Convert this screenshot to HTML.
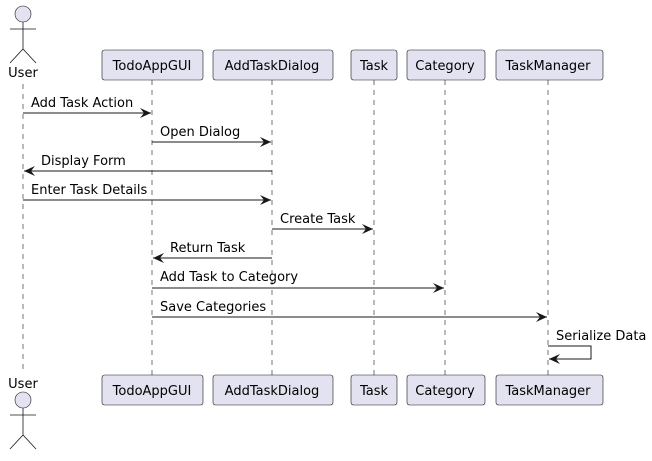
<!DOCTYPE html><html><head><style>body{margin:0;background:#fff}</style></head><body>
<svg width="652" height="456" xmlns="http://www.w3.org/2000/svg" font-family="'DejaVu Sans','Liberation Sans',sans-serif" font-size="13">
<defs><marker id="a" markerWidth="12" markerHeight="10" refX="11" refY="5" orient="auto" markerUnits="userSpaceOnUse"><path d="M0,0 L11,5 L0,10 L4,5 Z" fill="#181818"/></marker></defs>
<g stroke="#181818" stroke-width="0.6" stroke-dasharray="5,5">
<line x1="23" y1="84" x2="23" y2="370"/><line x1="152" y1="80" x2="152" y2="375"/><line x1="272" y1="80" x2="272" y2="375"/><line x1="374" y1="80" x2="374" y2="375"/><line x1="445" y1="80" x2="445" y2="375"/><line x1="548" y1="80" x2="548" y2="375"/></g>
<g fill="#E2E2F0" stroke="#181818" stroke-width="0.6">
<rect x="102" y="50" width="101" height="30" rx="2.5"/><rect x="213" y="50" width="120" height="30" rx="2.5"/><rect x="351" y="50" width="46" height="30" rx="2.5"/><rect x="407" y="50" width="78" height="30" rx="2.5"/><rect x="496" y="50" width="107" height="30" rx="2.5"/>
<rect x="102" y="375" width="101" height="30" rx="2.5"/><rect x="213" y="375" width="120" height="30" rx="2.5"/><rect x="351" y="375" width="46" height="30" rx="2.5"/><rect x="407" y="375" width="78" height="30" rx="2.5"/><rect x="496" y="375" width="107" height="30" rx="2.5"/>
<circle cx="23" cy="14" r="8"/><circle cx="23" cy="400" r="8"/></g>
<g stroke="#181818" stroke-width="0.8" fill="none">
<path d="M23,22 V49 M10,29 H36 M10,63 L23,49 L36,63"/><path d="M23,408 V435 M10,415 H36 M10,449 L23,435 L36,449"/></g>
<g fill="#000" text-anchor="middle">
<text x="23" y="77">User</text><text x="23" y="388">User</text>
<text x="152" y="70">TodoAppGUI</text><text x="272" y="70">AddTaskDialog</text><text x="374" y="70">Task</text><text x="445" y="70">Category</text><text x="548" y="70">TaskManager</text>
<text x="152" y="395">TodoAppGUI</text><text x="272" y="395">AddTaskDialog</text><text x="374" y="395">Task</text><text x="445" y="395">Category</text><text x="548" y="395">TaskManager</text></g>
<g stroke="#181818" stroke-width="1" marker-end="url(#a)">
<line x1="23" y1="113" x2="151" y2="113"/><line x1="152" y1="142" x2="271" y2="142"/><line x1="272" y1="171" x2="24" y2="171"/><line x1="23" y1="200" x2="271" y2="200"/><line x1="272" y1="229" x2="373" y2="229"/><line x1="272" y1="258" x2="153" y2="258"/><line x1="152" y1="288" x2="444" y2="288"/><line x1="152" y1="317" x2="547" y2="317"/><polyline points="548,346 591,346 591,359 549,359" fill="none"/></g>
<g fill="#000">
<text x="31" y="107">Add Task Action</text><text x="160" y="136">Open Dialog</text><text x="41" y="165">Display Form</text><text x="31" y="194">Enter Task Details</text><text x="280" y="223">Create Task</text><text x="170" y="252">Return Task</text><text x="160" y="281">Add Task to Category</text><text x="160" y="311">Save Categories</text><text x="556" y="340">Serialize Data</text></g>
</svg></body></html>
